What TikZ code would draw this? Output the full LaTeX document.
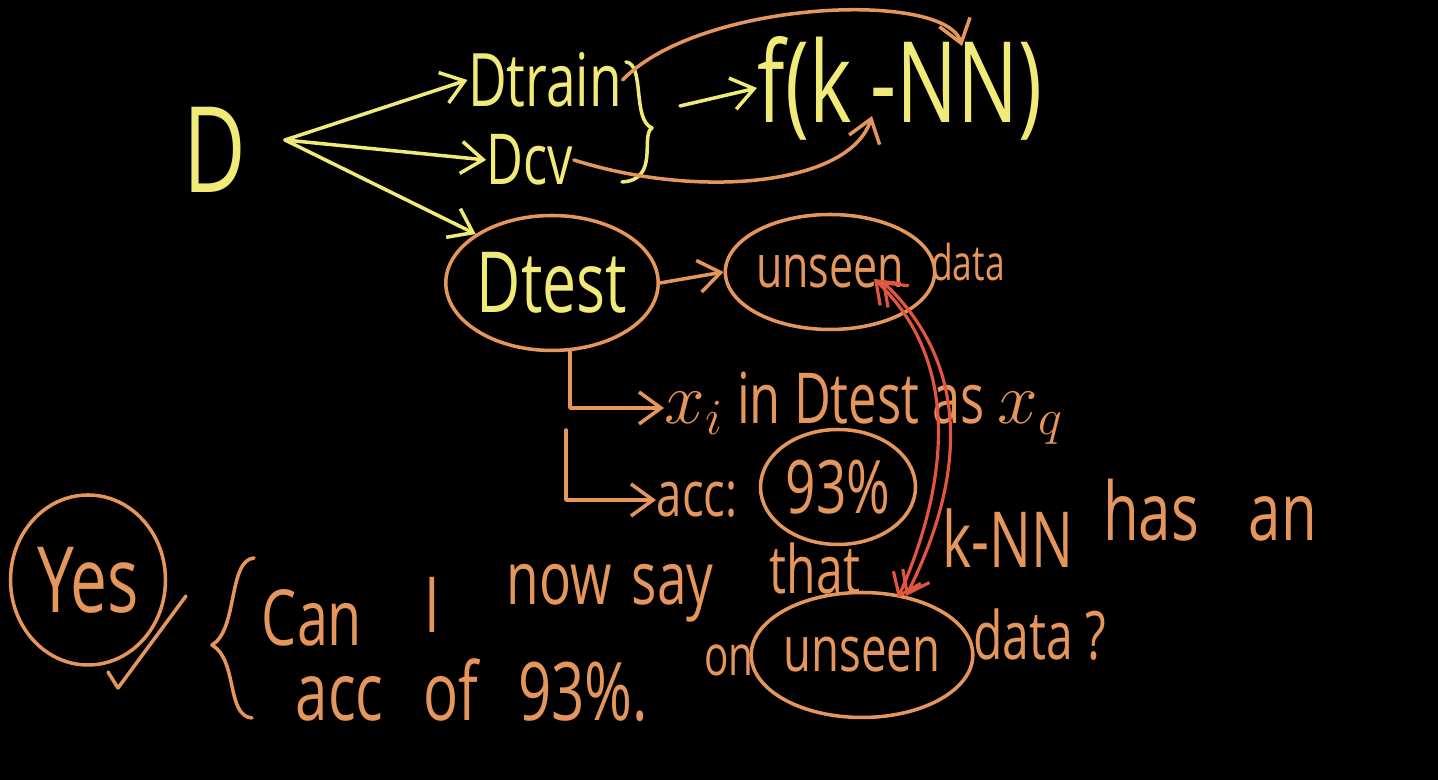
\documentclass[tikz,border=0pt]{standalone}
\usepackage{fontspec}
\setmainfont{Open Sans}
\newfontfamily\hand[FakeStretch=0.72]{Open Sans}
\usetikzlibrary{shapes.geometric,arrows.meta}
\definecolor{hy}{RGB}{240,234,120}
\definecolor{ho}{RGB}{228,150,92}
\definecolor{hr}{RGB}{224,86,62}
\tikzset{
  fs/.style={font=\hand\fontsize{#1}{#1}\selectfont},
  ytxt/.style={text=hy, inner sep=0pt},
  otxt/.style={text=ho, inner sep=0pt},
  yline/.style={draw=hy, line width=1pt, line cap=round, line join=round},
  oline/.style={draw=ho, line width=1pt, line cap=round, line join=round},
  rline/.style={draw=hr, line width=0.9pt, line cap=round},
  tip/.style={-{Straight Barb[length=2.2mm,width=3.2mm]}},
  rtip/.style={{Straight Barb[length=2mm,width=3mm]}-{Straight Barb[length=2mm,width=3mm]}},
  oell/.style={ellipse, draw=ho, line width=1pt, inner sep=0pt}
}
\begin{document}
\begin{tikzpicture}[x=0.1mm,y=-0.1mm]
\fill[black] (0,0) rectangle (1438,780);
\useasboundingbox (0,0) rectangle (1438,780);

% top part
\node[ytxt, fs=34] (D) at (215,150) {D};
\node[ytxt, fs=21] (Dtrain) at (545,80) {Dtrain};
\node[ytxt, fs=20] (Dcv) at (530,160) {Dcv};
\node[ytxt, fs=32] (f) at (900,88) {f(k\,-NN)};
\node[oell, text=hy, fs=24, minimum width=20.5mm, minimum height=13.5mm] (Dtest) at (552,283) {Dtest};

\coordinate (Dsrc) at (285,140);
\draw[yline, tip] (Dsrc) -- (Dtrain.west);
\draw[yline, tip] (Dsrc) -- (Dcv.west);
\draw[yline, tip] (Dsrc) -- (Dtest.north west);

% brace
\coordinate (brTop) at (626,62);
\coordinate (brMid) at (652,128);
\coordinate (brBot) at (622,182);
\draw[yline] (brTop) .. controls (645,64) and (632,120) .. (brMid)
  .. controls (640,135) and (660,180) .. (brBot);
\coordinate (brOut) at (680,106);
\draw[yline, tip] (brOut) -- (f.west);

% orange curves to f
\coordinate (kTop) at (962,46);
\coordinate (kBot) at (872,116);
\draw[oline, tip] (Dtrain.east) .. controls (700,0) and (945,-10) .. (kTop);
\draw[oline, tip] (Dcv.east) .. controls (700,200) and (850,185) .. (kBot);

% unseen data
\node[oell, text=ho, fs=17, minimum width=20mm, minimum height=11.5mm] (U1) at (830,272) {unseen};
\node[otxt, fs=14] (data1) at (968,262) {data};
\draw[oline, tip] (Dtest.east) -- (U1.west);

% branches
\node[otxt, fs=20, anchor=west] (xi) at (664,408) {$x_i$ in Dtest as $x_q$};
\node[otxt, fs=18, anchor=west] (acc) at (656,500) {acc:};
\node[oell, text=ho, fs=21, minimum width=15.5mm, minimum height=11.5mm] (p93) at (838,487) {93\%};
\coordinate (b1) at (570,350);
\coordinate (b2) at (566,430);
\draw[oline, tip] (b1) |- (xi.west);
\draw[oline, tip] (b2) |- (acc.west);

% question
\node[oell, text=ho, fs=26, minimum width=15.5mm, minimum height=17mm] (yes) at (88,580) {Yes};
\coordinate (t1) at (108,672);
\coordinate (t2) at (118,688);
\coordinate (t3) at (186,596);
\draw[oline] (t1) -- (t2) -- (t3);

\coordinate (q1) at (254,558);
\coordinate (q2) at (212,645);
\coordinate (q3) at (252,718);
\draw[oline] (q1) .. controls (228,560) and (238,630) .. (q2)
  .. controls (238,660) and (226,716) .. (q3);

\node[otxt, fs=22] (can) at (312,618) {Can};
\node[otxt, fs=22] (I) at (432,605) {I};
\node[otxt, fs=21] (nowsay) at (610,593) {now\hspace{2mm}say};
\node[otxt, fs=19] (that) at (815,568) {that};
\node[otxt, fs=22] (knn) at (1008,538) {k-NN};
\node[otxt, fs=23] (hasan) at (1210,510) {has\hspace{5mm}an};

\node[otxt, fs=23] (accof) at (472,690) {acc\hspace{4mm}of\hspace{4mm}93\%.};
\node[otxt, fs=16] (on) at (729,660) {on};
\node[oell, text=ho, fs=18, minimum width=20.5mm, minimum height=12.5mm] (U2) at (862,655) {unseen};
\node[otxt, fs=19] (data2) at (1040,635) {data ?};

% red double arrows
\coordinate (r1) at (874,279);
\coordinate (r2) at (898,598);
\coordinate (r3) at (882,281);
\coordinate (r4) at (906,596);
\draw[rline, rtip] (r1) .. controls (960,360) and (950,480) .. (r2);
\draw[rline, rtip] (r3) .. controls (975,370) and (962,485) .. (r4);
\end{tikzpicture}
\end{document}
